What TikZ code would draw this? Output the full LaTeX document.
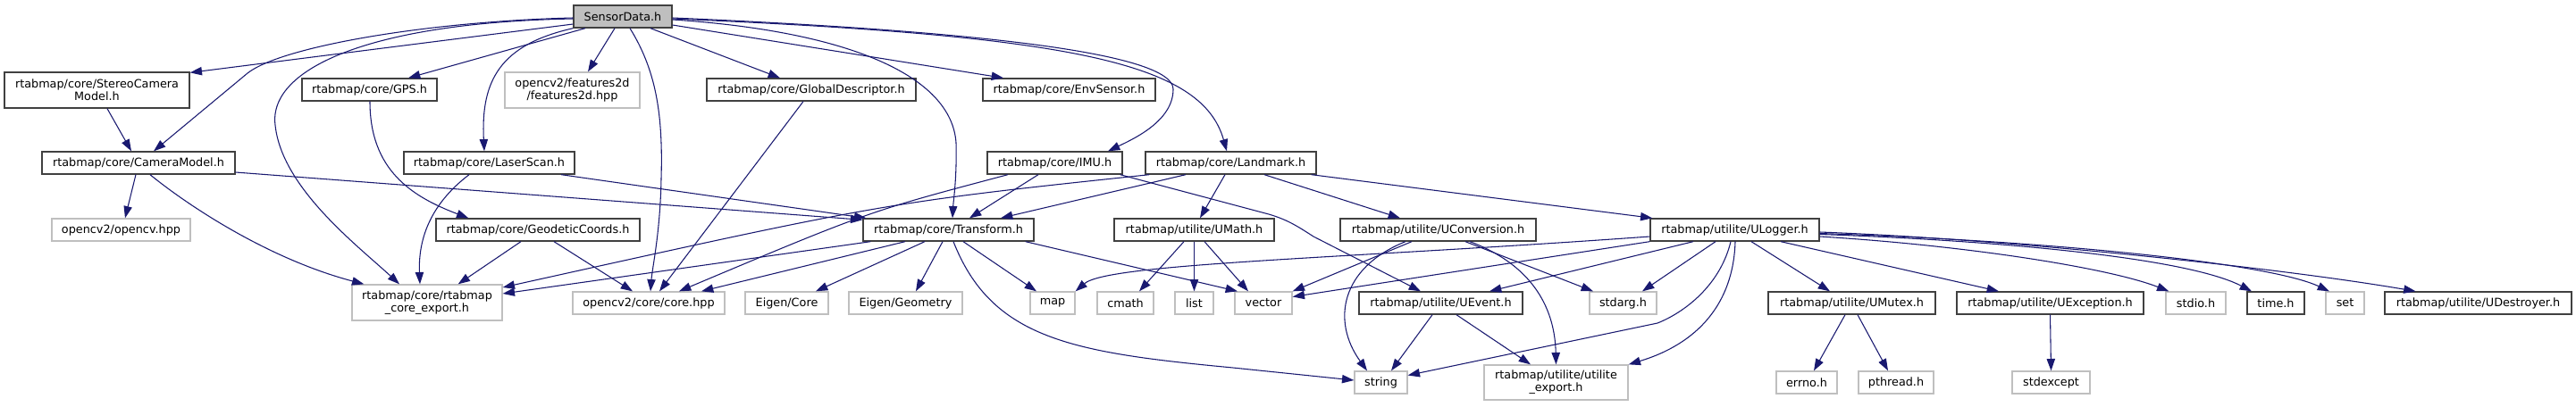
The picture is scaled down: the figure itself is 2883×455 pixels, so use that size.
\documentclass[tikz,border=0pt]{standalone}
\usepackage{fontspec}
\setmainfont{DejaVu Sans}
\usetikzlibrary{arrows.meta,calc}
\definecolor{edgeblue}{HTML}{191970}
\definecolor{nodegray}{HTML}{BFBFBF}
\definecolor{docborder}{HTML}{404040}
\tikzset{
  every node/.style={font=\fontsize{9.6}{10.5}\selectfont, align=center, inner sep=0pt, rectangle, minimum height=18.75pt},
  doc/.style={draw=docborder, line width=1pt, fill=white},
  ext/.style={draw=nodegray, line width=1pt, fill=white},
  wd/.style={minimum width=#1*0.75pt},
  ht/.style={minimum height=#1*0.75pt},
  e/.style={draw=edgeblue, line width=0.8pt, -{Triangle[length=10pt,width=7pt]}}
}
\begin{document}
\begin{tikzpicture}[x=0.75pt,y=-0.75pt]
\useasboundingbox (0,0) rectangle (2883,455);
\fill[white] (0,0) rectangle (2883,455);
% nodes
\node[doc, fill=nodegray, wd=110] (sd) at (697,18.5) {SensorData.h};
\node[doc, wd=207, ht=40] (stereo) at (108.5,101) {rtabmap/core/StereoCamera\\Model.h};
\node[doc, wd=151] (gps) at (413.5,100.5) {rtabmap/core/GPS.h};
\node[ext, wd=151, ht=40] (feat) at (640.5,101) {opencv2/features2d\\/features2d.hpp};
\node[doc, wd=234] (gdesc) at (908,100.5) {rtabmap/core/GlobalDescriptor.h};
\node[doc, wd=193] (env) at (1196.5,100.5) {rtabmap/core/EnvSensor.h};
\node[doc, wd=216] (cam) at (155,182.5) {rtabmap/core/CameraModel.h};
\node[doc, wd=191] (laser) at (547.5,182.5) {rtabmap/core/LaserScan.h};
\node[doc, wd=151] (imu) at (1180.5,182.5) {rtabmap/core/IMU.h};
\node[doc, wd=191] (land) at (1377.5,182.5) {rtabmap/core/Landmark.h};
\node[ext, wd=155] (ocv) at (135.5,257.5) {opencv2/opencv.hpp};
\node[doc, wd=228] (geo) at (602,257.5) {rtabmap/core/GeodeticCoords.h};
\node[doc, wd=191] (tf) at (1061.5,257.5) {rtabmap/core/Transform.h};
\node[doc, wd=179] (umath) at (1336.5,257.5) {rtabmap/utilite/UMath.h};
\node[doc, wd=219] (uconv) at (1609.5,257.5) {rtabmap/utilite/UConversion.h};
\node[doc, wd=189] (ulog) at (1941.5,257.5) {rtabmap/utilite/ULogger.h};
\node[ext, wd=168, ht=40] (cexp) at (478,339) {rtabmap/core/rtabmap\\\_core\_export.h};
\node[ext, wd=170] (core) at (726,339.5) {opencv2/core/core.hpp};
\node[ext, wd=93] (ecore) at (880.5,339.5) {Eigen/Core};
\node[ext, wd=127] (egeo) at (1013.5,339.5) {Eigen/Geometry};
\node[ext, wd=50] (map) at (1178,339.5) {map};
\node[ext, wd=63] (cmath) at (1259.5,339.5) {cmath};
\node[ext, wd=43] (list) at (1336.5,339.5) {list};
\node[ext, wd=64] (vector) at (1414,339.5) {vector};
\node[doc, wd=183] (uevent) at (1612.5,339.5) {rtabmap/utilite/UEvent.h};
\node[ext, wd=75] (stdarg) at (1816.5,339.5) {stdarg.h};
\node[doc, wd=187] (umutex) at (2072.5,339.5) {rtabmap/utilite/UMutex.h};
\node[doc, wd=209] (uexc) at (2294.5,339.5) {rtabmap/utilite/UException.h};
\node[ext, wd=67] (stdio) at (2457.5,339.5) {stdio.h};
\node[doc, wd=64] (timeh) at (2547,339.5) {time.h};
\node[ext, wd=43] (set) at (2624.5,339.5) {set};
\node[doc, wd=209] (udest) at (2773.5,339.5) {rtabmap/utilite/UDestroyer.h};
\node[ext, wd=59] (string) at (1545.5,428.5) {string};
\node[ext, wd=161, ht=39] (uexp) at (1741.5,428.5) {rtabmap/utilite/utilite\\\_export.h};
\node[ext, wd=68] (errno) at (2022,428.5) {errno.h};
\node[ext, wd=84] (pthread) at (2122,428.5) {pthread.h};
\node[ext, wd=87] (stdexc) at (2295.5,428.5) {stdexcept};
% SensorData edges
\draw[e] ($(sd.west)+(0,8.5)$) -- ($(stereo.north east)+(0,1)$);
\draw[e] ($(sd.west)+(0,1.5)$) .. controls (480,24) and (315,52) .. (277,82) -- ($(cam.north)+(17,0)$);
\draw[e] ($(sd.west)+(0,2.5)$) .. controls (420,25) and (300,75) .. (308,140) .. controls (315,210) and (400,275) .. ($(cexp.north)+(-31,0)$);
\draw[e] ($(sd.south)+(-42,0)$) -- ($(gps.north)+(43.5,0)$);
\draw[e] (sd.south west) .. controls (560,50) and (538,90) .. ($(laser.north)+(-5.5,0)$);
\draw[e] ($(sd.south)+(-9,0)$) -- ($(feat.north)+(17.5,0)$);
\draw[e] ($(sd.south)+(8,0)$) .. controls (735,80) and (742,130) .. (740,200) .. controls (739,260) and (730,300) .. ($(core.north)+(2,0)$);
\draw[e] ($(sd.south)+(31,0)$) -- ($(gdesc.north)+(-35,0)$);
\draw[e] ($(sd.east)+(0,9.5)$) -- ($(env.north)+(-73.5,0)$);
\draw[e] ($(sd.east)+(0,3.5)$) .. controls (950,35) and (1065,85) .. (1070,160) .. controls (1071,200) and (1067,225) .. ($(tf.north)+(4.5,0)$);
\draw[e] ($(sd.east)+(0,1.5)$) .. controls (1100,35) and (1313,60) .. (1313,100) .. controls (1313,135) and (1270,155) .. ($(imu.north)+(59.5,0)$);
\draw[e] ($(sd.east)+(0,2.5)$) .. controls (1200,40) and (1345,70) .. ($(land.north)+(-4.5,0)$);
% second level
\draw[e] ($(stereo.south)+(11.5,0)$) -- ($(cam.north)+(-8,0)$);
\draw[e] ($(cam.south)+(-3,0)$) -- ($(ocv.north)+(4.5,0)$);
\draw[e] ($(cam.south)+(13,0)$) .. controls (210,230) and (300,290) .. ($(cexp.north west)+(14,0)$);
\draw[e] ($(cam.east)+(0,10.5)$) -- ($(tf.north west)+(0,2)$);
\draw[e] ($(gps.south)+(0.5,0)$) .. controls (414,190) and (460,220) .. ($(geo.north west)+(37,0)$);
\draw[e] ($(laser.south)+(-22.5,0)$) .. controls (480,230) and (468,270) .. ($(cexp.north)+(-8,0)$);
\draw[e] ($(laser.south)+(80.5,0)$) -- ($(tf.north west)+(4,0)$);
\draw[e] ($(gdesc.south)+(-9,0)$) -- ($(core.north)+(12,0)$);
\draw[e] ($(geo.south)+(-19,0)$) -- ($(cexp.north east)+(-50,0)$);
\draw[e] ($(geo.south)+(18,0)$) -- ($(core.north)+(-18,0)$);
\draw[e] ($(imu.south)+(-52.5,0)$) .. controls (972,237) .. ($(core.north)+(34,0)$);
\draw[e] ($(imu.south)+(-18.5,0)$) -- ($(tf.north)+(23.5,0)$);
\draw[e] ($(imu.south east)+(-3,0)$) -- (1420,240) .. controls (1440,246) and (1450,252) .. (1470,265) -- ($(uevent.north)+(-22.5,0)$);
\draw[e] ($(land.south west)+(5,0)$) .. controls (991,227) .. ($(cexp.east)+(0,-17)$);
\draw[e] ($(land.south)+(-50.5,0)$) -- ($(tf.north)+(58.5,0)$);
\draw[e] ($(land.south)+(-6.5,0)$) -- ($(umath.north)+(6.5,0)$);
\draw[e] ($(land.south)+(37.5,0)$) -- ($(uconv.north)+(-42.5,0)$);
\draw[e] ($(land.south east)+(-6,0)$) -- ($(ulog.north west)+(3,0)$);
% Transform
\draw[e] ($(tf.south west)+(9,0)$) -- ($(cexp.east)+(0,-10)$);
\draw[e] ($(tf.south)+(-48.5,0)$) -- ($(core.north)+(59,0)$);
\draw[e] ($(tf.south)+(-26.5,0)$) -- ($(ecore.north)+(32.5,0)$);
\draw[e] ($(tf.south)+(-6.5,0)$) -- ($(egeo.north)+(11.5,0)$);
\draw[e] ($(tf.south)+(5.5,0)$) .. controls (1110,380) and (1200,395) .. (1380,412) -- ($(string.west)+(0,-2.5)$);
\draw[e] ($(tf.south)+(16.5,0)$) -- ($(map.north)+(-18,0)$);
\draw[e] ($(tf.south east)+(-10,0)$) -- ($(vector.north)+(-29,0)$);
% UMath
\draw[e] ($(umath.south)+(-11.5,0)$) -- ($(cmath.north)+(15.5,0)$);
\draw[e] (umath.south) -- (list.north);
\draw[e] ($(umath.south)+(11.5,0)$) -- ($(vector.north)+(-17,0)$);
% UConversion
\draw[e] ($(uconv.south)+(-29.5,0)$) -- (vector.north east);
\draw[e] ($(uconv.south)+(-36.5,0)$) .. controls (1500,300) and (1490,360) .. ($(string.north)+(-15.5,0)$);
\draw[e] ($(uconv.south)+(30.5,0)$) -- ($(stdarg.north)+(-33.5,0)$);
\draw[e] ($(uconv.south)+(35.5,0)$) .. controls (1710,295) and (1740,340) .. (uexp.north);
% ULogger
\draw[e] (ulog.south west) -- ($(vector.east)+(0,-7)$);
\draw[e] ($(ulog.west)+(0,7.5)$) .. controls (1500,290) and (1240,295) .. (map.north east);
\draw[e] ($(ulog.south)+(-46.5,0)$) -- ($(uevent.north)+(54.5,0)$);
\draw[e] ($(ulog.south)+(-21.5,0)$) -- ($(stdarg.north)+(21.5,0)$);
\draw[e] ($(ulog.south)+(-4.5,0)$) .. controls (1925,320) and (1885,350) .. (1855,362) -- ($(string.east)+(0,-8)$);
\draw[e] ($(ulog.south)+(0.5,0)$) .. controls (1940,340) and (1900,385) .. (uexp.north east);
\draw[e] ($(ulog.south)+(18.5,0)$) -- ($(umutex.north)+(-24.5,0)$);
\draw[e] ($(ulog.south)+(51.5,0)$) -- ($(uexc.north)+(-57.5,0)$);
\draw[e] ($(ulog.east)+(0,7.5)$) .. controls (2200,275) and (2360,300) .. ($(stdio.north west)+(4,0)$);
\draw[e] ($(ulog.east)+(0,5)$) .. controls (2250,270) and (2450,290) .. ($(timeh.north)+(-27,0)$);
\draw[e] ($(ulog.east)+(0,4)$) .. controls (2300,270) and (2540,295) .. ($(set.north)+(-17.5,0)$);
\draw[e] ($(ulog.east)+(0,2.5)$) .. controls (2250,268) and (2550,300) .. ($(udest.north)+(-70,0)$);
% lower
\draw[e] ($(uevent.south)+(-9.5,0)$) -- ($(string.north)+(11.5,0)$);
\draw[e] ($(uevent.south)+(17.5,0)$) -- ($(uexp.north)+(-28.5,0)$);
\draw[e] ($(umutex.south)+(-7.5,0)$) -- ($(errno.north)+(8,0)$);
\draw[e] ($(umutex.south)+(6.5,0)$) -- ($(pthread.north)+(-9,0)$);
\draw[e] (uexc.south) -- (stdexc.north);
\end{tikzpicture}
\end{document}
